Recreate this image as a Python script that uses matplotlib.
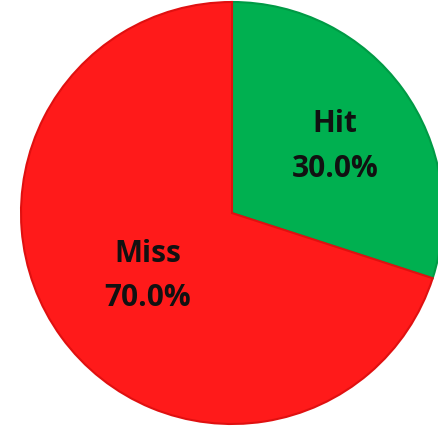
import matplotlib
matplotlib.use("Agg")
import matplotlib.pyplot as plt

# Hit / miss shares
categories = ["Hit", "Miss"]
shares = [30.0, 70.0]
colors = ["#00B050", "#FF1A1A"]
edges = ["#009A45", "#E01010"]

W, H = 438, 428
fig = plt.figure(figsize=(W / 100, H / 100), dpi=100)
ax = fig.add_axes([0, 0, 1, 1])

cx, cy, r = 232, H - 213, 211
wedges, _ = ax.pie(shares, colors=colors, startangle=90, counterclock=False,
                   center=(cx, cy), radius=r, frame=True,
                   wedgeprops=dict(linewidth=1.5))
for w, ec in zip(wedges, edges):
    w.set_edgecolor(ec)
ax.set_xlim(0, W)
ax.set_ylim(0, H)
ax.set_aspect("equal")
ax.axis("off")

# label baselines (pixel coordinates from top-left): name line, percent line
label_pos = {"Hit": (335, 132, 177), "Miss": (148, 262, 306)}
total = sum(shares)
style = dict(ha="center", va="baseline", fontsize=21.5, fontweight="bold",
             family="Open Sans", color="#111111")
for cat, val in zip(categories, shares):
    x, y1, y2 = label_pos[cat]
    ax.text(x, H - y1, cat, **style)
    ax.text(x, H - y2, f"{val / total * 100:.1f}%", **style)

fig.savefig("out.png", dpi=100)
